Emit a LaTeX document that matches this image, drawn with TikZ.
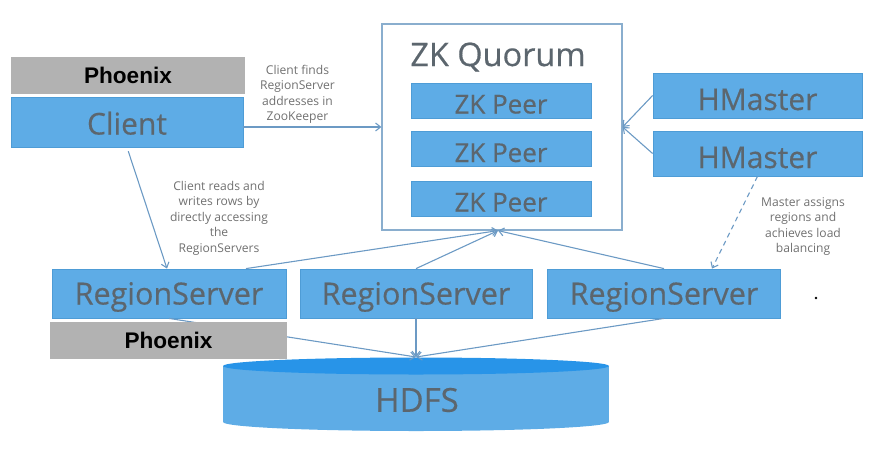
\documentclass[tikz,border=0pt]{standalone}
\usepackage{fontspec}
\setmainfont{Open Sans}
\newfontfamily\boxfont[FakeBold=0.4]{Open Sans}
\newfontfamily\phxfont{Liberation Sans}
\usepackage{tikz}
\usetikzlibrary{arrows.meta}

\definecolor{boxblue}{RGB}{94,172,230}
\definecolor{boxedge}{RGB}{78,156,214}
\definecolor{textgray}{RGB}{92,102,110}
\definecolor{notegray}{RGB}{112,112,112}
\definecolor{linkblue}{RGB}{108,154,196}
\definecolor{quorumedge}{RGB}{138,174,206}
\definecolor{phxgray}{RGB}{178,178,178}
\definecolor{diskblue}{RGB}{40,148,232}

\begin{document}
\begin{tikzpicture}[x=1pt, y=-1pt, line width=1pt,
    bluebox/.style={draw=boxedge, fill=boxblue, line width=0.8pt, text=textgray, inner sep=0pt},
    phx/.style={fill=phxgray, inner sep=0pt, minimum height=37, font=\phxfont\bfseries\fontsize{22.6}{26}\selectfont},
    note/.style={align=center, text=notegray, font=\fontsize{12.1}{15.5}\selectfont},
    link/.style={draw=linkblue, line width=1.1pt, -{Straight Barb[length=5pt,width=8pt]}}]
    \useasboundingbox (0,0) rectangle (870,453);

    \node[bluebox, minimum width=232, minimum height=50, font=\boxfont\fontsize{30}{32}\selectfont, text height=25, text depth=0pt] (client) at (127,122) {Client};

    \node[draw=quorumedge, line width=1.2pt, fill=white, minimum width=240, minimum height=206] (zk) at (502,127) {};
    \node[text=textgray, font=\boxfont\fontsize{32.5}{34}\selectfont] (zktitle) at (498,57) {ZK Quorum};
    \node[bluebox, minimum width=180, minimum height=35, font=\boxfont\fontsize{26}{28}\selectfont, text height=26, text depth=0pt] (peer1) at (501,100.5) {ZK Peer};
    \node[bluebox, minimum width=180, minimum height=35, font=\boxfont\fontsize{26}{28}\selectfont, text height=26, text depth=0pt] (peer2) at (501,149) {ZK Peer};
    \node[bluebox, minimum width=180, minimum height=35, font=\boxfont\fontsize{26}{28}\selectfont, text height=26, text depth=0pt] (peer3) at (501,198.5) {ZK Peer};

    \node[bluebox, minimum width=209, minimum height=45, font=\boxfont\fontsize{30}{32}\selectfont, text height=29, text depth=0pt] (hm1) at (757.5,95.5) {HMaster};
    \node[bluebox, minimum width=209, minimum height=45, font=\boxfont\fontsize{30}{32}\selectfont, text height=29, text depth=0pt] (hm2) at (757.5,153.5) {HMaster};

    \node[bluebox, minimum width=234, minimum height=49, font=\boxfont\fontsize{30.5}{32}\selectfont, text height=22, text depth=0pt] (rs1) at (169,293.5) {RegionServer};
    \node[bluebox, minimum width=232, minimum height=49, font=\boxfont\fontsize{30.5}{32}\selectfont, text height=22, text depth=0pt] (rs2) at (416,293.5) {RegionServer};
    \node[bluebox, minimum width=233, minimum height=49, font=\boxfont\fontsize{30.5}{32}\selectfont, text height=22, text depth=0pt] (rs3) at (664,293.5) {RegionServer};

    \fill[boxblue] (223,366) rectangle (609,422);
    \fill[boxblue] (416,422) ellipse [x radius=193, y radius=9];
    \fill[diskblue] (416,366) ellipse [x radius=193, y radius=8.5];
    \node[text=textgray, font=\boxfont\fontsize{33}{35}\selectfont] (hdfs) at (417,400) {HDFS};
    \coordinate (hdfstop) at (416,357);

    \draw[link] (client.east |- zk.west) -- (zk.west);
    \draw[link, shorten <=4pt] (client.south) -- ([xshift=-2pt]rs1.north);
    \draw[link] (hm1.west) -- (zk.east);
    \draw[link] (hm2.west) -- (zk.east);
    \draw[link, dash pattern=on 5pt off 4pt] (hm2.south) -- ([xshift=48pt]rs3.north);
    \draw[link] ([xshift=77pt]rs1.north) -- ([xshift=-4pt]zk.south);
    \draw[link] (rs2.north) -- ([xshift=-4pt]zk.south);
    \draw[link] (rs3.north) -- ([xshift=-4pt]zk.south);
    \draw[link] (rs1.south) -- (hdfstop);
    \draw[link] (rs2.south) -- (hdfstop);
    \draw[link] (rs3.south) -- (hdfstop);

    \node[phx, minimum width=234] (phxtop) at (128,75) {Phoenix};
    \node[phx, minimum width=237] (phxbot) at (168.5,340.5) {Phoenix};

    \node[note] (findnote) at (297.5,94.5) {Client finds\\RegionServer\\addresses in\\ZooKeeper};
    \node[note] (readnote) at (219,218) {Client reads and\\writes rows by\\directly accessing\\the\\RegionServers};
    \node[note] (masternote) at (803,226.5) {Master assigns\\regions and\\achieves load\\balancing};

    \fill (816,298) circle (1.3);
\end{tikzpicture}
\end{document}
